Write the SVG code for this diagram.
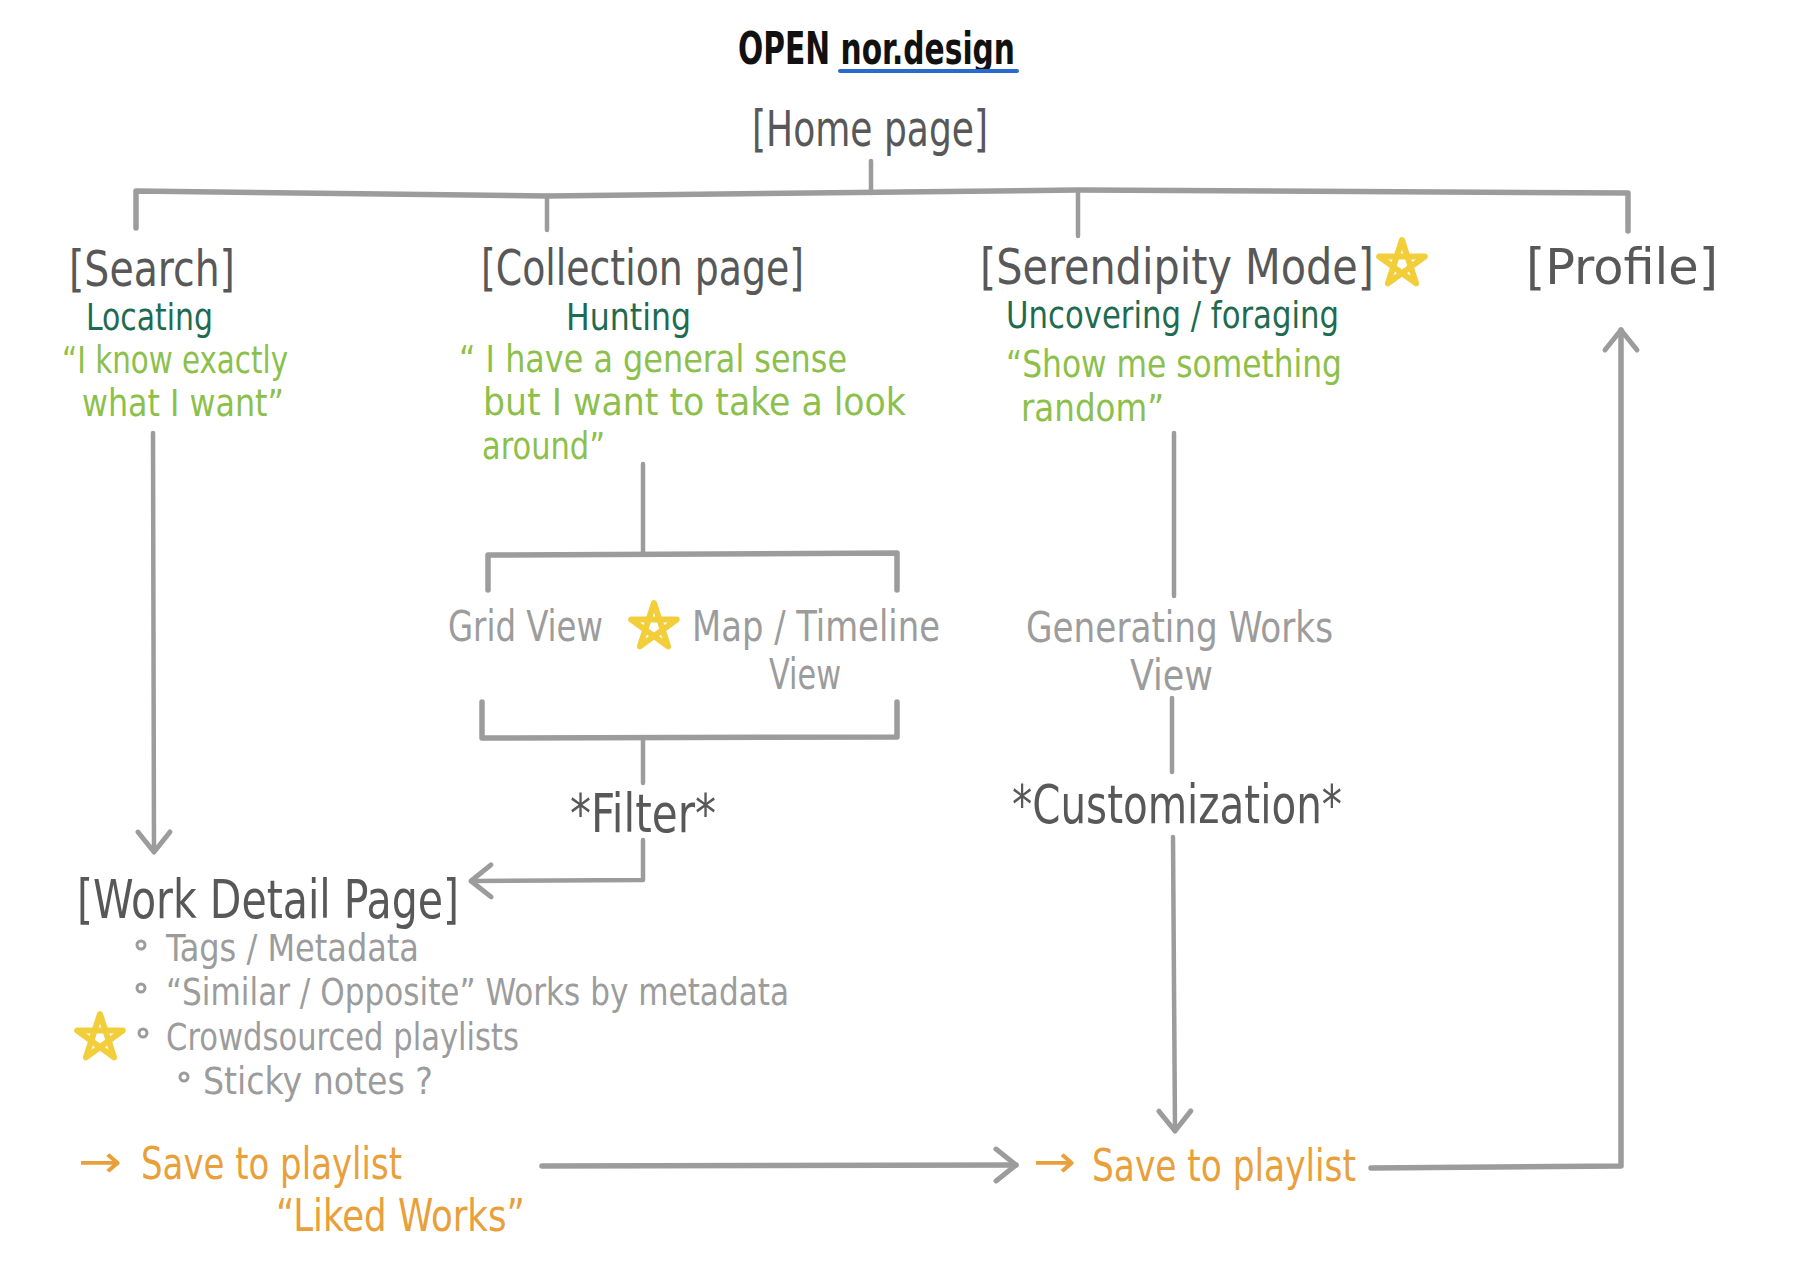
<svg xmlns="http://www.w3.org/2000/svg" xmlns:xlink="http://www.w3.org/1999/xlink" width="1798" height="1284" viewBox="0 0 1798 1284">
<style>
text{font-family:"Liberation Sans Narrow","DejaVu Sans Condensed","Liberation Sans",sans-serif;}
.title{font-size:44px;fill:#111;font-weight:bold;}
.head{font-size:50px;fill:#585858;}
.dg{font-size:38px;fill:#1f6b50;}
.lg{font-size:37px;fill:#8cc04b;}
.gv{font-size:43px;fill:#9c9c9c;}
.mid{font-size:53px;fill:#585858;}
.bul{font-size:37px;fill:#9c9c9c;}
.or{font-size:45px;fill:#e9a03b;}
.ln{fill:none;stroke:#9c9c9c;stroke-width:4.5;stroke-linecap:round;stroke-linejoin:round;}
.thick{stroke-width:5.5;}
.dot{fill:none;stroke:#9c9c9c;stroke-width:3;}
</style>
<defs>
<marker id="ah" markerUnits="userSpaceOnUse" markerWidth="30" markerHeight="40" viewBox="0 0 30 40" refX="24" refY="20" orient="auto">
<path d="M4 4 L24 20 L4 36" fill="none" stroke="#9c9c9c" stroke-width="5" stroke-linecap="round" stroke-linejoin="round"/>
</marker>
<path id="star" d="M0,-24 L14.1,19.4 L-22.8,-7.4 L22.8,-7.4 L-14.1,19.4 Z" fill="none" stroke="#f2cf3a" stroke-width="6" stroke-linejoin="round" stroke-linecap="round"/>
</defs>
<rect width="1798" height="1284" fill="#fff"/>

<g id="connectors">
<path class="ln" d="M871 161 V193"/>
<path class="ln thick" d="M136 228 V191 L547 196 L1078 190 L1628 193 V231"/>
<path class="ln" d="M547 196 V230"/>
<path class="ln" d="M1078 190 V236"/>
<path class="ln" d="M153 433 L154 852" marker-end="url(#ah)"/>
<path class="ln" d="M643 464 V553"/>
<path class="ln thick" d="M488 590 V555 L897 553 V590"/>
<path class="ln thick" d="M482 702 V738 L897 737 V702"/>
<path class="ln" d="M643 740 V783"/>
<path class="ln" d="M643 840 V880 L471 881" marker-end="url(#ah)"/>
<path class="ln" d="M1174 433 V596"/>
<path class="ln" d="M1172 698 V772"/>
<path class="ln" d="M1173 837 L1175 1131" marker-end="url(#ah)"/>
<path class="ln thick" d="M542 1166 L1016 1165" marker-end="url(#ah)"/>
<path class="ln thick" d="M1371 1168 L1621 1166 V330" marker-end="url(#ah)"/>
</g>

<g id="title">
<text class="title" x="738" y="64" textLength="277" lengthAdjust="spacingAndGlyphs">OPEN nor.design</text>
<path d="M840 71 L1017 71" stroke="#2a6ad0" stroke-width="4" stroke-linecap="round"/>
</g>

<g id="home">
<text class="head" x="752" y="146" textLength="236" lengthAdjust="spacingAndGlyphs">[Home page]</text>
</g>

<g id="search">
<text class="head" x="69" y="286" textLength="166" lengthAdjust="spacingAndGlyphs">[Search]</text>
<text class="dg" x="86" y="330" textLength="127" lengthAdjust="spacingAndGlyphs">Locating</text>
<text class="lg" x="62" y="373" textLength="226" lengthAdjust="spacingAndGlyphs">“I know exactly</text>
<text class="lg" x="82" y="416" textLength="202" lengthAdjust="spacingAndGlyphs">what I want”</text>
</g>

<g id="collection">
<text class="head" x="481" y="285" textLength="323" lengthAdjust="spacingAndGlyphs">[Collection page]</text>
<text class="dg" x="566" y="330" textLength="125" lengthAdjust="spacingAndGlyphs">Hunting</text>
<text class="lg" x="459" y="372" textLength="388" lengthAdjust="spacingAndGlyphs">“ I have a general sense</text>
<text class="lg" x="483" y="415" textLength="423" lengthAdjust="spacingAndGlyphs">but I want to take a look</text>
<text class="lg" x="482" y="459" textLength="123" lengthAdjust="spacingAndGlyphs">around”</text>
</g>

<g id="serendipity">
<text class="head" x="980" y="284" textLength="394" lengthAdjust="spacingAndGlyphs">[Serendipity Mode]</text>
<use xlink:href="#star" x="1402" y="264"/>
<text class="dg" x="1006" y="328" textLength="333" lengthAdjust="spacingAndGlyphs">Uncovering / foraging</text>
<text class="lg" x="1006" y="377" textLength="336" lengthAdjust="spacingAndGlyphs">“Show me something</text>
<text class="lg" x="1021" y="421" textLength="143" lengthAdjust="spacingAndGlyphs">random”</text>
</g>

<g id="profile">
<text class="head" x="1526" y="284" textLength="192" lengthAdjust="spacingAndGlyphs">[Profile]</text>
</g>

<g id="views">
<text class="gv" x="448" y="641" textLength="155" lengthAdjust="spacingAndGlyphs">Grid View</text>
<use xlink:href="#star" x="654" y="627"/>
<text class="gv" x="692" y="641" textLength="248" lengthAdjust="spacingAndGlyphs">Map / Timeline</text>
<text class="gv" x="769" y="689" textLength="72" lengthAdjust="spacingAndGlyphs">View</text>
</g>

<g id="filter">
<text class="mid" x="570" y="832" textLength="146" lengthAdjust="spacingAndGlyphs">*Filter*</text>
</g>

<g id="generating">
<text class="gv" x="1026" y="642" textLength="307" lengthAdjust="spacingAndGlyphs">Generating Works</text>
<text class="gv" x="1130" y="690" textLength="83" lengthAdjust="spacingAndGlyphs">View</text>
</g>

<g id="customization">
<text class="mid" x="1012" y="823" textLength="330" lengthAdjust="spacingAndGlyphs">*Customization*</text>
</g>

<g id="work-detail">
<text class="mid" x="77" y="918" textLength="382" lengthAdjust="spacingAndGlyphs">[Work Detail Page]</text>
<circle class="dot" cx="141" cy="945" r="4"/>
<text class="bul" x="166" y="961" textLength="253" lengthAdjust="spacingAndGlyphs">Tags / Metadata</text>
<circle class="dot" cx="141" cy="988" r="4"/>
<text class="bul" x="166" y="1005" textLength="623" lengthAdjust="spacingAndGlyphs">“Similar / Opposite” Works by metadata</text>
<use xlink:href="#star" x="100" y="1038"/>
<circle class="dot" cx="143" cy="1033" r="4"/>
<text class="bul" x="166" y="1050" textLength="353" lengthAdjust="spacingAndGlyphs">Crowdsourced playlists</text>
<circle class="dot" cx="184" cy="1077" r="4"/>
<text class="bul" x="203" y="1094" textLength="230" lengthAdjust="spacingAndGlyphs">Sticky notes ?</text>
</g>

<g id="save-left">
<text class="or" x="78" y="1177" textLength="44" lengthAdjust="spacingAndGlyphs">→</text>
<text class="or" x="141" y="1179" textLength="261" lengthAdjust="spacingAndGlyphs">Save to playlist</text>
<text class="or" x="276" y="1231" textLength="249" lengthAdjust="spacingAndGlyphs">“Liked Works”</text>
</g>

<g id="save-right">
<text class="or" x="1033" y="1177" textLength="43" lengthAdjust="spacingAndGlyphs">→</text>
<text class="or" x="1092" y="1181" textLength="264" lengthAdjust="spacingAndGlyphs">Save to playlist</text>
</g>
</svg>
